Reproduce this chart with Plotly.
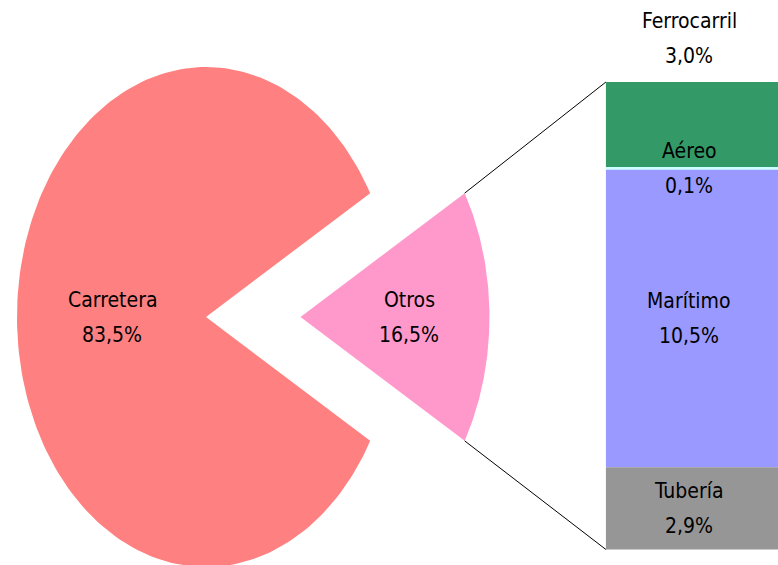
import numpy as np
import plotly.graph_objects as go

# ---- data ----
pie_labels = ["Carretera", "Otros"]
pie_values = [83.5, 16.5]
pie_colors = ["#ff8080", "#ff99cc"]

bar_labels = ["Ferrocarril", "Aéreo", "Marítimo", "Tubería"]
bar_values = [3.0, 0.1, 10.5, 2.9]
bar_colors = ["#339966", "#ccffff", "#9999ff", "#969696"]

def fmt(v):
    return f"{v:.1f}%".replace(".", ",")

FONT = dict(family="DejaVu Sans Condensed, sans-serif", size=21, color="#000000")

# ---- layout geometry (axis units: pie radius = 1) ----
EXPLODE = 0.5
BAR_X0, BAR_X1 = 2.116, 3.04
BAR_HEIGHT = 1.87
BAR_CENTER_Y = 0.005
LABEL_X_BAR = 2.556
LINE_OFF = 0.07  # half distance between label lines (y units)

fig = go.Figure()

total = sum(pie_values)
other_frac = pie_values[1] / total
half = np.pi * other_frac  # half-angle of "Otros" slice, centred on 0 rad


def wedge(cx, a0, a1, n=200):
    t = np.linspace(a0, a1, n)
    xs = np.concatenate([[cx], cx + np.cos(t), [cx]])
    ys = np.concatenate([[0], np.sin(t), [0]])
    return xs, ys

# Carretera slice
xs, ys = wedge(0.0, half, 2 * np.pi - half)
fig.add_trace(go.Scatter(x=xs, y=ys, fill="toself", fillcolor=pie_colors[0],
                         line=dict(width=0), mode="lines", hoverinfo="skip"))
# Otros slice (exploded)
xs, ys = wedge(EXPLODE, -half, half)
fig.add_trace(go.Scatter(x=xs, y=ys, fill="toself", fillcolor=pie_colors[1],
                         line=dict(width=0), mode="lines", hoverinfo="skip"))

# stacked bar for "Otros"
bar_total = sum(bar_values)
scale = BAR_HEIGHT / bar_total
top = BAR_CENTER_Y + BAR_HEIGHT / 2
heights, bases, centers = [], [], []
cur = top
for v in bar_values:
    h = v * scale
    heights.append(h)
    bases.append(cur - h)
    centers.append(cur - h / 2)
    cur -= h
fig.add_trace(go.Bar(x=[(BAR_X0 + BAR_X1) / 2] * len(bar_values), y=heights, base=bases,
                     width=BAR_X1 - BAR_X0, marker=dict(color=bar_colors, line=dict(width=0)),
                     hoverinfo="skip"))

# connector lines
for s in (1, -1):
    fig.add_trace(go.Scatter(x=[EXPLODE + np.cos(half), BAR_X0],
                             y=[s * np.sin(half), top if s == 1 else top - BAR_HEIGHT],
                             mode="lines", line=dict(color="#000000", width=1),
                             hoverinfo="skip"))

# labels (name line above, value line below)
ann = []

def add_label(x, y, name, value):
    ann.append(dict(x=x, y=y + LINE_OFF, text=name))
    ann.append(dict(x=x, y=y - LINE_OFF, text=fmt(value)))

add_label(-0.497, 0, pie_labels[0], pie_values[0])
add_label(EXPLODE + 0.576, 0, pie_labels[1], pie_values[1])
for i, (lab, v) in enumerate(zip(bar_labels, bar_values)):
    y = centers[i]
    if i == 0:
        y = top + 0.176
    add_label(LABEL_X_BAR, y, lab, v)
for a in ann:
    a.update(showarrow=False, font=FONT, xanchor="center", yanchor="middle", align="center")

fig.update_layout(
    width=778, height=565,
    margin=dict(l=0, r=0, t=0, b=0),
    paper_bgcolor="white", plot_bgcolor="white",
    showlegend=False, barmode="overlay",
    annotations=ann,
    xaxis=dict(range=[-206 / 189, (778 - 206) / 189], visible=False, fixedrange=True),
    yaxis=dict(range=[(317 - 565) / 250, 317 / 250], visible=False, fixedrange=True),
)

fig.write_html("out.html")
